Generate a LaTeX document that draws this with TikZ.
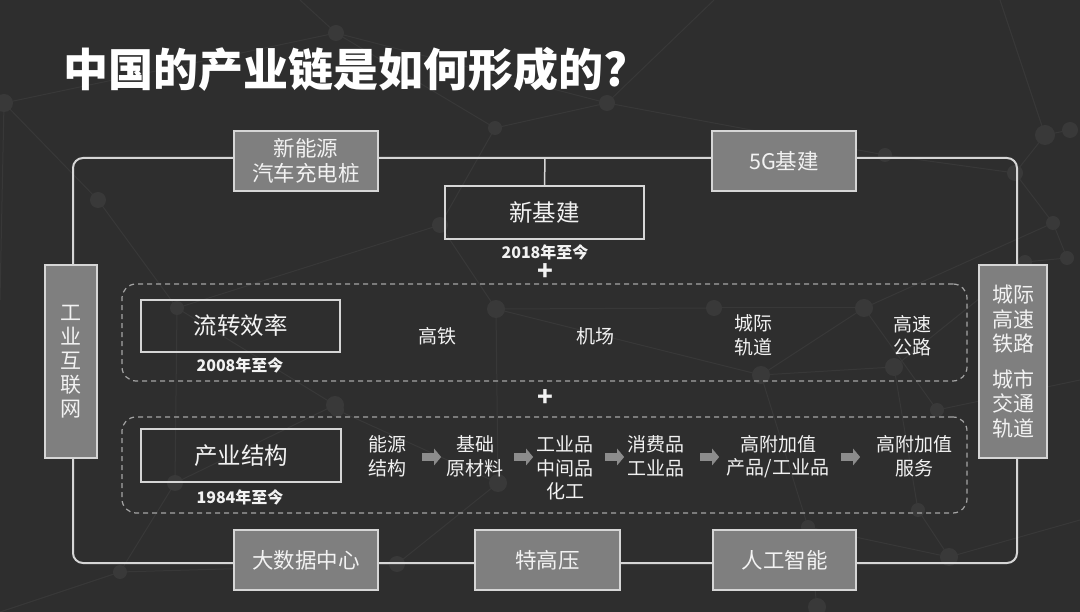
\documentclass[tikz,border=0pt]{standalone}
\usepackage{fontspec}
\setmainfont{Noto Sans CJK SC}
\usetikzlibrary{shapes.arrows}
\definecolor{bg}{HTML}{2E2E2E}
\definecolor{boxfill}{HTML}{7F7F7F}
\definecolor{boxline}{HTML}{D6D6D6}
\definecolor{txt}{HTML}{F2F2F2}
\definecolor{netline}{HTML}{383838}
\definecolor{netdot}{HTML}{393939}
\definecolor{dashc}{HTML}{A5A5A5}
\definecolor{arr}{HTML}{8C8C8C}
\begin{document}
\begin{tikzpicture}[x=1pt,y=-1pt,
  gbox/.style={draw=boxline, fill=boxfill, line width=1.5pt, text=txt, align=center, inner sep=0pt, font=\fontsize{21.5}{25}\selectfont},
  obox/.style={draw=boxline, line width=1.5pt, text=txt, align=center, inner sep=0pt, font=\fontsize{23.5}{28}\selectfont},
  lbl/.style={text=txt, align=center, inner sep=0pt, font=\fontsize{19}{23.5}\selectfont},
  yr/.style={text=txt, inner sep=0pt, font=\bfseries\fontsize{16}{18}\selectfont},
  plus/.style={text=txt, inner sep=0pt, font=\bfseries\fontsize{26}{26}\selectfont},
  dbox/.style={draw=dashc, dashed, dash pattern=on 5pt off 4pt, line width=1.2pt, rounded corners=14pt, inner sep=0pt},
  loopline/.style={draw=boxline, line width=2pt, rounded corners=10pt},
  flowarrow/.style={single arrow, fill=arr, draw=none, minimum width=17pt, minimum height=19pt, single arrow head extend=2pt, single arrow tip angle=100, inner sep=1.5pt},
  netl/.style={draw=netline, line width=1pt},
  netd/.style={fill=netdot}
]
% background
\useasboundingbox (0,0) rectangle (1080,612);
\clip (0,0) rectangle (1080,612);
\fill[bg] (0,0) rectangle (1080,612);
% faint network
\foreach \a/\b in {{(336,33)}/{(607,103)}, {(336,33)}/{(495,128)}, {(607,103)}/{(495,128)}, {(495,128)}/{(440,225)}, {(440,225)}/{(177,308)}, {(177,308)}/{(175,483)}, {(177,308)}/{(335,405)}, {(335,405)}/{(175,483)}, {(496,309)}/{(714,308)}, {(714,308)}/{(864,308)}, {(496,309)}/{(761,375)}, {(761,375)}/{(894,367)}, {(864,308)}/{(761,375)}, {(864,308)}/{(1053,223)}, {(1053,223)}/{(1015,173)}, {(1015,173)}/{(1045,135)}, {(1045,135)}/{(1070,130)}, {(885,155)}/{(1015,173)}, {(607,103)}/{(885,155)}, {(4,103)}/{(336,33)}, {(4,103)}/{(98,200)}, {(98,200)}/{(177,308)}, {(440,225)}/{(496,309)}, {(496,309)}/{(498,483)}, {(498,483)}/{(397,564)}, {(397,564)}/{(120,572)}, {(175,483)}/{(120,572)}, {(761,375)}/{(808,527)}, {(808,527)}/{(949,557)}, {(918,510)}/{(949,557)}, {(894,367)}/{(918,510)}, {(1067,258)}/{(1053,223)}, {(1025,262)}/{(1067,258)}, {(1025,262)}/{(894,367)}, {(808,527)}/{(817,607)}, {(337,410)}/{(498,483)}, {(607,103)}/{(714,0)}, {(937,410)}/{(1080,380)}, {(949,557)}/{(1080,520)}, {(4,103)}/{(0,300)}, {(120,572)}/{(0,612)}, {(336,33)}/{(300,0)}, {(1045,135)}/{(1000,0)}, {(864,308)}/{(937,410)}} {
  \draw[netl] \a -- \b;
}
\foreach \p/\r in {{(336,33)}/8, {(607,103)}/8, {(495,128)}/7, {(440,225)}/8, {(177,308)}/7, {(175,483)}/8, {(335,405)}/9, {(496,309)}/9, {(714,308)}/8, {(864,308)}/9, {(761,375)}/9, {(894,367)}/9, {(1053,223)}/7, {(1015,173)}/8, {(1045,135)}/10, {(1070,130)}/8, {(885,155)}/7, {(4,103)}/9, {(98,200)}/8, {(498,483)}/9, {(397,564)}/8, {(120,572)}/7, {(808,527)}/7, {(949,557)}/9, {(918,510)}/7, {(1067,258)}/7, {(1025,262)}/7, {(817,607)}/9, {(337,410)}/7, {(937,410)}/7} {
  \fill[netd] \p circle (\r);
}
% title
\node[anchor=west, text=white, inner sep=0pt, font=\bfseries\fontsize{45}{50}\selectfont] (title) at (63,69) {中国的产业链是如何形成的?};
% outer loop
\draw[loopline] (73,158) rectangle (1017,563);
\coordinate (topj) at (545,158);
% boxes on the loop
\node[gbox, minimum width=144, minimum height=60] (ev) at (306,161) {新能源\\汽车充电桩};
\node[gbox, minimum width=144, minimum height=60] (g5) at (784,161) {5G基建};
\node[gbox, minimum width=52, minimum height=193, font=\fontsize{21}{24}\selectfont] (iot) at (71,361.5) {工\\业\\互\\联\\网};
\node[gbox, minimum width=68, minimum height=193, font=\fontsize{21}{24.5}\selectfont] (rail) at (1013,361.5) {城际\\高速\\铁路\\[11pt]城市\\交通\\轨道};
\node[gbox, minimum width=144, minimum height=60] (bd) at (306,560) {大数据中心};
\node[gbox, minimum width=145, minimum height=60] (uhv) at (547.5,560) {特高压};
\node[gbox, minimum width=143, minimum height=60] (ai) at (784.5,560) {人工智能};
% new infrastructure
\node[obox, minimum width=199, minimum height=53] (xj) at (544.5,212.5) {新基建};
\draw[boxline, line width=1.5pt] (topj) -- (xj.north);
\node[yr] (y2018) at (545,252) {2018年至今};
\node[plus] (p1) at (545,272) {+};
% row 1
\node[dbox, minimum width=845, minimum height=97] (row1) at (544.5,332.5) {};
\node[obox, minimum width=199, minimum height=52] (lz) at (240.5,326) {流转效率};
\node[yr] (y2008) at (240,365) {2008年至今};
\node[lbl] (gt) at (437,336) {高铁};
\node[lbl] (jc) at (595,336) {机场};
\node[lbl] (cj) at (753,335.5) {城际\\轨道};
\node[lbl] (gs) at (912,335.5) {高速\\公路};
\node[plus] (p2) at (545,398) {+};
% row 2
\node[dbox, minimum width=845, minimum height=96] (row2) at (544.5,465) {};
\node[obox, minimum width=200, minimum height=53] (cy) at (241,455.5) {产业结构};
\node[yr] (y1984) at (240,497) {1984年至今};
\node[lbl] (s1) at (387,456.5) {能源\\结构};
\node[lbl] (s2) at (475,456.5) {基础\\原材料};
\node[lbl] (s3) at (565,468) {工业品\\中间品\\化工};
\node[lbl] (s4) at (656,456.5) {消费品\\工业品};
\node[lbl] (s5) at (778,456.5) {高附加值\\产品/工业品};
\node[lbl] (s6) at (914,456.5) {高附加值\\服务};
\node[flowarrow] (a1) at (430,457) {};
\node[flowarrow] (a2) at (522,457) {};
\node[flowarrow] (a3) at (613,457) {};
\node[flowarrow] (a4) at (708,457) {};
\node[flowarrow] (a5) at (849,457) {};
\end{tikzpicture}
\end{document}
